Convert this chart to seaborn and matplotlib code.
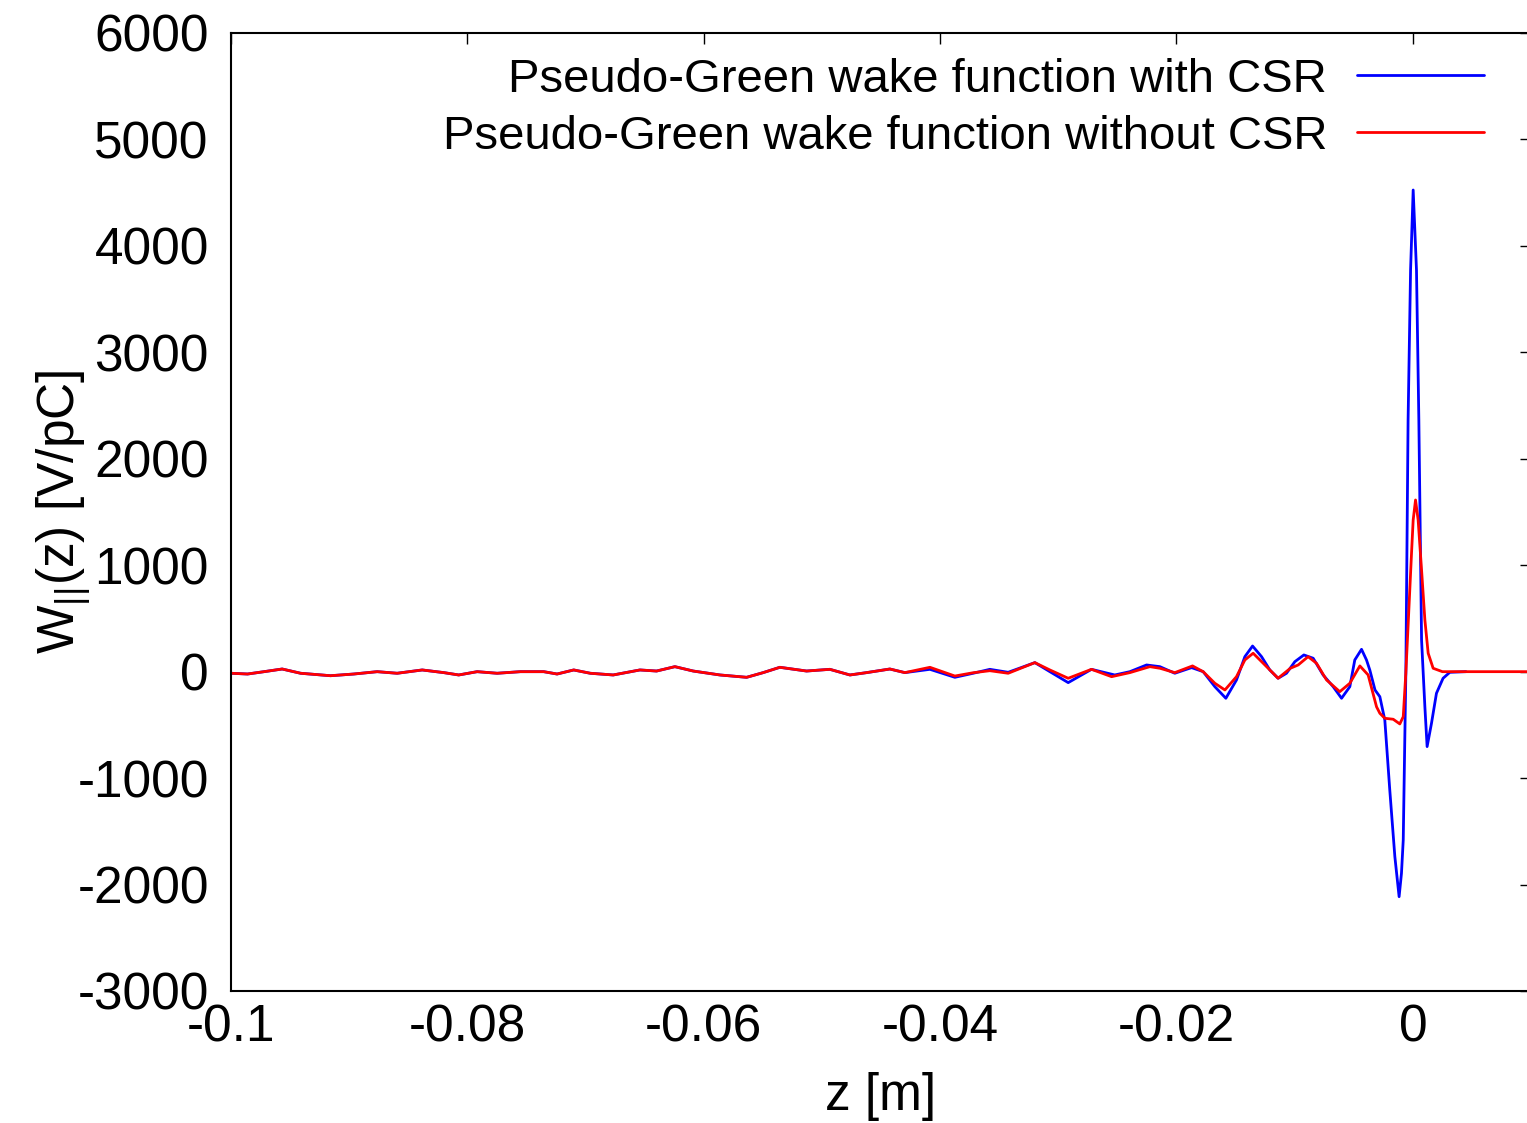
import numpy as np
import pandas as pd
import matplotlib
matplotlib.use("Agg")
import matplotlib.pyplot as plt
import seaborn as sns

# ---- data ----
z_far = [-0.1, -0.0986, -0.0972, -0.09567, -0.09411, -0.09158, -0.0896, -0.08763,
         -0.08594, -0.08382, -0.08199, -0.08073, -0.07917, -0.07748, -0.07551,
         -0.07354, -0.07241, -0.0710, -0.0696, -0.06766, -0.0654, -0.06399,
         -0.06244, -0.06089, -0.05863, -0.05637, -0.05497, -0.05356, -0.0513,
         -0.04933, -0.04763, -0.04622, -0.04425, -0.04298]
w_far = [-15, -22, 0, 25, -15, -38, -22, 0,
         -15, 16, -9, -31, 0, -15, 0,
         0, -22, 16, -15, -31, 16, 6,
         47, 6, -31, -53, -9, 41, 6,
         22, -31, -9, 25, -9]

z_blue_near = [-0.04086, -0.03875, -0.0372, -0.03579, -0.03424, -0.03198, -0.03071,
               -0.02916, -0.02719, -0.02522, -0.02394, -0.02253, -0.0214, -0.02014,
               -0.01872, -0.01774, -0.01675, -0.01582, -0.01492, -0.01421, -0.01356,
               -0.0128, -0.0121, -0.0114, -0.01069, -0.00998, -0.00922, -0.00843,
               -0.00759, -0.00674, -0.00603, -0.00533, -0.00491, -0.00434, -0.00392,
               -0.00364, -0.0032, -0.00279, -0.00237, -0.00195, -0.00152, -0.00116,
               -0.00096, -0.00081, -0.00068, -0.00059, -0.0004, -0.00019, 0.00003,
               0.00031, 0.00051, 0.00074, 0.00102, 0.00121, 0.00158, 0.002, 0.00256,
               0.00313, 0.0045]
w_blue_near = [22, -53, -15, 22, -6, 85, 0,
               -103, 22, -31, 0, 63, 47, -15,
               38, 0, -141, -250, -78, 141, 241,
               141, 16, -62, -15, 94, 157, 126,
               -31, -141, -250, -141, 110, 210, 110,
               16, -172, -235, -454, -1111, -1738, -2114,
               -1894, -1581, -642, -15, 2365, 3774, 4525,
               3774, 2365, 298, -329, -704, -485, -203, -62,
               -6, 0]

z_red_near = [-0.04086, -0.03875, -0.0372, -0.03579, -0.03424, -0.03198, -0.03071,
              -0.02916, -0.02719, -0.02549, -0.02394, -0.02225, -0.0214, -0.02014,
              -0.01864, -0.01774, -0.01675, -0.0159, -0.01492, -0.01421, -0.01351,
              -0.01266, -0.0114, -0.01036, -0.0097, -0.00886, -0.00815, -0.0073,
              -0.00618, -0.00533, -0.00448, -0.00378, -0.00307, -0.00279, -0.00237,
              -0.00166, -0.0011, -0.00081, -0.00059, -0.00031, -0.00011, 0.00003,
              0.00023, 0.00045, 0.00074, 0.00102, 0.0013, 0.00172, 0.0025, 0.01]
w_red_near = [41, -41, -10, 9, -15, 85, 16,
              -62, 22, -47, -9, 47, 32, -9,
              54, 0, -109, -172, -47, 110, 173,
              79, -62, 32, 63, 141, 79, -78,
              -188, -109, 54, -31, -330, -391, -438,
              -447, -491, -423, -12, 642, 1112, 1425,
              1613, 1425, 955, 486, 173, 32, 0, 0]

label_blue = "Pseudo-Green wake function with CSR"
label_red = "Pseudo-Green wake function without CSR"
xticks = [-0.1, -0.08, -0.06, -0.04, -0.02, 0.0]
xtick_labels = ["-0.1", "-0.08", "-0.06", "-0.04", "-0.02", "0"]
yticks = [-3000, -2000, -1000, 0, 1000, 2000, 3000, 4000, 5000, 6000]
ytick_labels = ["-3000", "-2000", "-1000", "0", "1000", "2000", "3000", "4000", "5000", "6000"]

df = pd.concat([
    pd.DataFrame({"z": z_far + z_blue_near, "W": w_far + w_blue_near, "series": label_blue}),
    pd.DataFrame({"z": z_far + z_red_near, "W": w_far + w_red_near, "series": label_red}),
], ignore_index=True)

sns.set_theme(style="white")
plt.rcParams["font.family"] = ["Liberation Sans", "DejaVu Sans"]
plt.rcParams["mathtext.fontset"] = "custom"
plt.rcParams["mathtext.rm"] = "Liberation Sans"
plt.rcParams["text.color"] = "black"
plt.rcParams["axes.labelcolor"] = "black"

fs_tick = 37
fs_label = 37
fs_leg = 34
fig = plt.figure(figsize=(15.27, 11.23), dpi=100)
ax = fig.add_axes([231 / 1527, 1 - 991 / 1123, 1300 / 1527, 958 / 1123])

sns.lineplot(data=df, x="z", y="W", hue="series",
             palette={label_blue: "#0000ff", label_red: "#ff0000"},
             estimator=None, sort=False, linewidth=2.0, ax=ax)

ax.set_xlim(-0.1, 0.01)
ax.set_ylim(-3000, 6000)
ax.set_xticks(xticks)
ax.set_xticklabels(xtick_labels)
ax.set_yticks(yticks)
ax.set_yticklabels(ytick_labels)
ax.tick_params(axis="both", direction="in", length=8, width=1.0, color="black",
               labelsize=fs_tick, top=True, right=True, labelcolor="black")
ax.tick_params(axis="x", pad=9)
ax.tick_params(axis="y", pad=16)
for s in ax.spines.values():
    s.set_color("black")
    s.set_linewidth(1.5)

ax.set_xlabel("z [m]", fontsize=fs_label, color="black", labelpad=14)
ax.set_ylabel(r"W$_{\mathregular{||}}$(z) [V/pC]", fontsize=fs_label, color="black", labelpad=-11)

handles, labels = ax.get_legend_handles_labels()
leg = ax.legend(handles, labels, loc="upper right", bbox_to_anchor=(1484 / 1527, 1 - 58 / 1123),
                bbox_transform=fig.transFigure, frameon=False, markerfirst=False,
                fontsize=fs_leg, handlelength=2.7, handletextpad=0.62, labelspacing=0.27,
                borderpad=0, borderaxespad=0)
for t in leg.get_texts():
    t.set_color("black")

fig.savefig("out.png", dpi=100)
